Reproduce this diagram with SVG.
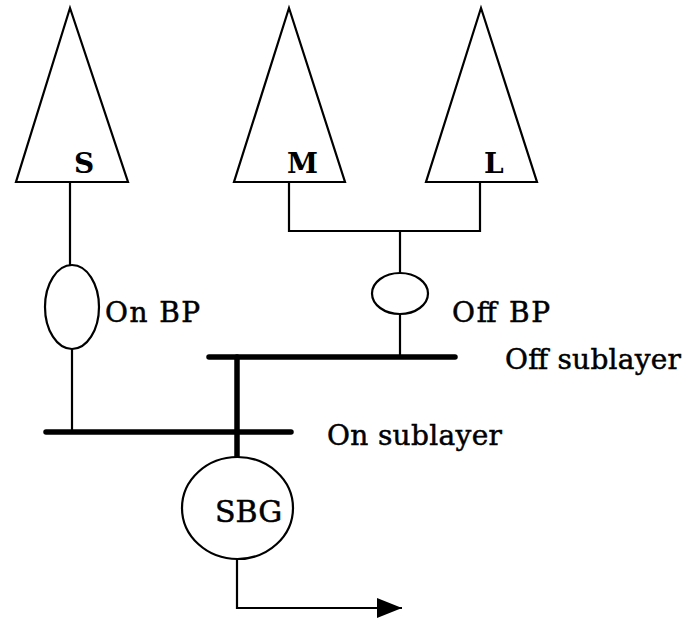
<svg xmlns="http://www.w3.org/2000/svg" width="685" height="618" viewBox="0 0 685 618">
<defs>
<style>
.shape{fill:#fff;stroke:#000;stroke-width:2.2}
.ln{fill:none;stroke:#000;stroke-width:2.2}
.bar{fill:none;stroke:#000;stroke-width:5.5;stroke-linecap:round}
.lbl{font-family:"DejaVu Serif","Liberation Serif",serif;font-size:28px;fill:#000;stroke:#000;stroke-width:0.5}
.tl{font-family:"DejaVu Serif","Liberation Serif",serif;font-size:28px;font-weight:bold;fill:#000}
</style>
<marker id="arr" viewBox="0 0 25 20" refX="25" refY="10" markerWidth="25" markerHeight="20" markerUnits="userSpaceOnUse" orient="auto">
<path d="M0,0 L25,10 L0,20 Z" fill="#000"/>
</marker>
</defs>
<rect width="685" height="618" fill="#fff"/>
<g id="connectors">
<path class="ln" d="M70,182 V265"/>
<path class="ln" d="M72,349 V432"/>
<path class="ln" d="M289,183 V231 H480 V183"/>
<path class="ln" d="M400,231 V273"/>
<path class="ln" d="M400,314 V357"/>
<path class="bar" d="M209,357 H455"/>
<path class="bar" d="M46,432 H291"/>
<path class="bar" d="M237,357 V458" stroke-linecap="butt"/>
<path class="ln" d="M237,559 V608 H402" marker-end="url(#arr)"/>
</g>
<g id="node-S">
<polygon class="shape" points="70,8 128,182 16,182"/>
<text class="tl" x="74" y="173">S</text>
</g>
<g id="node-M">
<polygon class="shape" points="289,8 345,182 234,182"/>
<text class="tl" x="287" y="173">M</text>
</g>
<g id="node-L">
<polygon class="shape" points="481,8 537,182 426,182"/>
<text class="tl" x="484" y="173">L</text>
</g>
<g id="node-OnBP">
<ellipse class="shape" cx="72" cy="307" rx="27" ry="42"/>
<text class="lbl" x="105" y="322" textLength="95">On BP</text>
</g>
<g id="node-OffBP">
<ellipse class="shape" cx="400" cy="293.5" rx="28" ry="20.5"/>
<text class="lbl" x="452" y="322" textLength="98">Off BP</text>
</g>
<g id="label-off-sublayer">
<text class="lbl" x="505" y="369" textLength="176">Off sublayer</text>
</g>
<g id="label-on-sublayer">
<text class="lbl" x="327" y="445" textLength="175">On sublayer</text>
</g>
<g id="node-SBG">
<ellipse class="shape" cx="237.5" cy="508" rx="55.5" ry="51"/>
<text class="lbl" x="215" y="522" style="font-size:30px">SBG</text>
</g>
</svg>
